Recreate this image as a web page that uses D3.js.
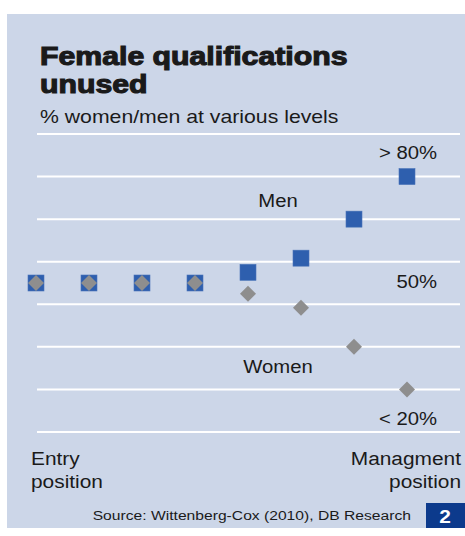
<!DOCTYPE html>
<html><head><meta charset="utf-8">
<script src="https://cdn.jsdelivr.net/npm/d3@7"></script>
<style>
html,body{margin:0;padding:0;background:#fff;}
svg{display:block;}
text{font-family:"Liberation Sans",Arial,Helvetica,sans-serif;fill:#1a1a1a;}
</style></head>
<body>
<script>
// Data
const levels = ["L1","L2","L3","L4","L5","L6","L7","L8"];
const menShare = [50,50,50,50,53,57,68,80];
const womenShare = [50,50,50,50,47,43,32,20];
const gridValues = [8,20,32,44,56,68,80,92];
const valueLabels = [{text:"> 80%", v:85}, {text:"50%", v:48.5}, {text:"< 20%", v:10}];
const seriesLabels = [{text:"Men", v:71.5}, {text:"Women", v:24.5}];

const W = 465, H = 536;
const SX = 1.16;
const svg = d3.select("body").append("svg").attr("width", W).attr("height", H);

function label(g, px, py, str, size, anchor, sx) {
  return g.append("text")
    .attr("transform", `translate(${px},${py}) scale(${sx||SX},1)`)
    .attr("text-anchor", anchor || "start")
    .style("font-size", size + "px")
    .text(str);
}

// panel
svg.append("rect").attr("x",7).attr("y",14).attr("width",W-7).attr("height",514).attr("fill","#ccd6e8");

// titles
[["Female qualifications",65],["unused",93]].forEach(([s,py]) => {
  label(svg, 40, py, s, 25, "start", 1.21)
    .style("font-weight","bold")
    .style("stroke","#1a1a1a").style("stroke-width","1.1px");
});

label(svg, 40, 123, "% women/men at various levels", 18, "start", 1.18);

const x = d3.scalePoint().domain(levels).range([36,407]);
const y = d3.scaleLinear().domain([8,92]).range([432,134]);

// grid lines
svg.append("g").selectAll("line").data(gridValues).join("line")
  .attr("x1",37).attr("x2",460)
  .attr("y1",d=>y(d)).attr("y2",d=>y(d))
  .attr("stroke","#ffffff").attr("stroke-width",2);

// value labels
const lg = svg.append("g");
valueLabels.forEach(d => label(lg, 437, y(d.v), d.text, 17.5, "end"));
seriesLabels.forEach(d => label(lg, 278, y(d.v), d.text, 17.5, "middle"));

// men squares
const sq = 16;
svg.append("g").selectAll("rect").data(levels).join("rect")
  .attr("x",(d)=>x(d)-sq/2).attr("y",(d,i)=>y(menShare[i])-sq/2)
  .attr("width",sq).attr("height",sq)
  .attr("fill","#2e5fae").attr("stroke","#4a74b8").attr("stroke-width",0.6);

// women diamonds
const dsym = d3.symbol().type(d3.symbolSquare).size(128);
svg.append("g").selectAll("path").data(levels).join("path")
  .attr("d",dsym)
  .attr("transform",(d,i)=>`translate(${x(d)},${y(womenShare[i])}) rotate(45)`)
  .attr("fill","#8e8e8e");

// axis end labels
label(svg, 31, 465, "Entry", 18, "start");
label(svg, 31, 488, "position", 18, "start");
label(svg, 461, 465, "Managment", 18, "end");
label(svg, 461, 488, "position", 18, "end");

// source
label(svg, 411, 520, "Source: Wittenberg-Cox (2010), DB Research", 13.5, "end");

// chart number box
svg.append("rect").attr("x",426).attr("y",503).attr("width",39).attr("height",25).attr("fill","#0c3a8c");
label(svg, 445, 523, "2", 19, "middle", 1.1)
  .style("font-weight","bold").style("fill","#ffffff");
</script>
</body></html>
